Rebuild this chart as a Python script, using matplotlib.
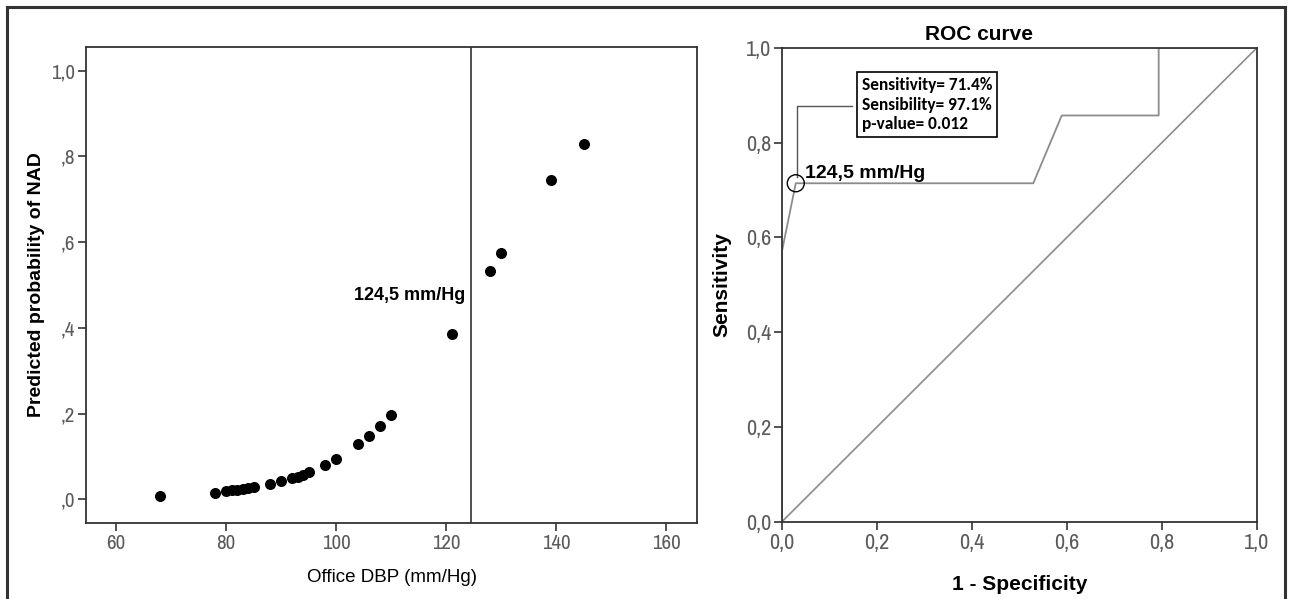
import matplotlib
matplotlib.use("Agg")
import matplotlib.pyplot as plt
from matplotlib.lines import Line2D

plt.rcParams['font.family'] = ['Liberation Sans', 'DejaVu Sans']

# Left panel: predicted probability vs office DBP
dbp = [68, 78, 80, 81, 82, 83, 84, 85, 88, 90, 92, 93, 94, 95, 98, 100,
       104, 106, 108, 110, 121, 128, 130, 139, 145]
prob = [0.007, 0.016, 0.019, 0.021, 0.022, 0.024, 0.026, 0.028, 0.036, 0.043,
        0.049, 0.053, 0.058, 0.064, 0.081, 0.094, 0.129, 0.149, 0.171, 0.197,
        0.385, 0.532, 0.574, 0.744, 0.828]
cutoff = 124.5
left_xticks = [60, 80, 100, 120, 140, 160]
left_yticks = [0.0, 0.2, 0.4, 0.6, 0.8, 1.0]
left_ylabels = [',0', ',2', ',4', ',6', ',8', '1,0']

# Right panel: ROC curve
fpr = [0.0, 0.0, 0.029, 0.529, 0.589, 0.793, 0.793, 1.0]
tpr = [0.0, 0.571, 0.714, 0.714, 0.857, 0.857, 1.0, 1.0]
cut_fpr, cut_tpr = 0.029, 0.714
roc_ticks = [0.0, 0.2, 0.4, 0.6, 0.8, 1.0]
roc_labels = ['0,0', '0,2', '0,4', '0,6', '0,8', '1,0']
box_text = "Sensitivity= 71.4%\nSensibility= 97.1%\np-value= 0.012"

W, H = 1289, 599
fig = plt.figure(figsize=(W / 100, H / 100), dpi=100)

spine_col = '#333333'
tick_col = '#5a5a5a'
narrow = ['Archivo Narrow', 'Liberation Sans', 'DejaVu Sans']

# outer frame (top, left, right)
for xs, ys in [([7, 7], [0, 592]), ([7, 1285], [592, 592]), ([1285, 1285], [0, 592])]:
    fig.add_artist(Line2D([x / W for x in xs], [y / H for y in ys],
                          color='#333333', lw=2.2, transform=fig.transFigure))

# ---- left
ax1 = fig.add_axes([86 / W, (H - 523) / H, 611 / W, 476 / H])
ax1.scatter(dbp, prob, s=48, color='black', zorder=3)
ax1.axvline(cutoff, color='#333333', lw=1.2)
ax1.text(123.4, 0.476, '124,5 mm/Hg', ha='right', va='center',
         fontsize=13, fontweight='bold')
ax1.set_xlim(54.5, 165.6)
ax1.set_ylim(-0.055, 1.055)
ax1.set_xticks(left_xticks)
ax1.set_yticks(left_yticks)
ax1.set_yticklabels(left_ylabels)
ax1.set_xlabel('Office DBP (mm/Hg)', fontsize=13.5)
ax1.set_ylabel('Predicted probability of NAD', fontsize=14, fontweight='bold')
ax1.xaxis.set_label_coords(0.5, -0.097)
ax1.yaxis.set_label_coords(-0.067, 0.5)

# ---- right
ax2 = fig.add_axes([782 / W, (H - 521.7) / H, 475 / W, 474 / H])
ax2.plot([0, 1], [0, 1], color='#8c8c8c', lw=1.2)
ax2.plot(fpr, tpr, color='#8c8c8c', lw=1.3)
ax2.scatter([cut_fpr], [cut_tpr], s=150, facecolor='none', edgecolor='black', lw=1.0, zorder=4)
ax2.plot([0.031, 0.031, 0.147], [0.728, 0.876, 0.876], color='#555555', lw=1.0)
ax2.text(0.048, 0.735, '124,5 mm/Hg', ha='left', va='center',
         fontsize=14, fontweight='bold')
ax2.text(0.168, 0.88, box_text, ha='left', va='center', fontsize=12.5,
         fontweight='bold', family=['Carlito', 'Lato', 'DejaVu Sans'], linespacing=1.3,
         bbox=dict(boxstyle='square,pad=0.28', facecolor='white', edgecolor='black', lw=1.2))
ax2.set_xlim(0, 1)
ax2.set_ylim(0, 1)
ax2.set_xticks(roc_ticks)
ax2.set_xticklabels(roc_labels)
ax2.set_yticks(roc_ticks)
ax2.set_yticklabels(roc_labels)
ax2.set_xlabel('1 - Specificity', fontsize=15, fontweight='bold')
ax2.set_ylabel('Sensitivity', fontsize=15, fontweight='bold')
ax2.xaxis.set_label_coords(0.5, -0.112)
ax2.yaxis.set_label_coords(-0.107, 0.5)
fig.text(979 / W, 1 - 34 / H, 'ROC curve', ha='center', va='center',
         fontsize=15, fontweight='bold')

for ax, lsize in ((ax1, 15), (ax2, 16)):
    for sp in ax.spines.values():
        sp.set_color(spine_col)
        sp.set_linewidth(1.3)
    ax.tick_params(direction='out', length=6, width=1.2, color=spine_col,
                   labelcolor=tick_col, labelsize=lsize, pad=2)
    for lbl in ax.get_xticklabels() + ax.get_yticklabels():
        lbl.set_fontfamily(narrow)

fig.savefig('out.png', dpi=100)
